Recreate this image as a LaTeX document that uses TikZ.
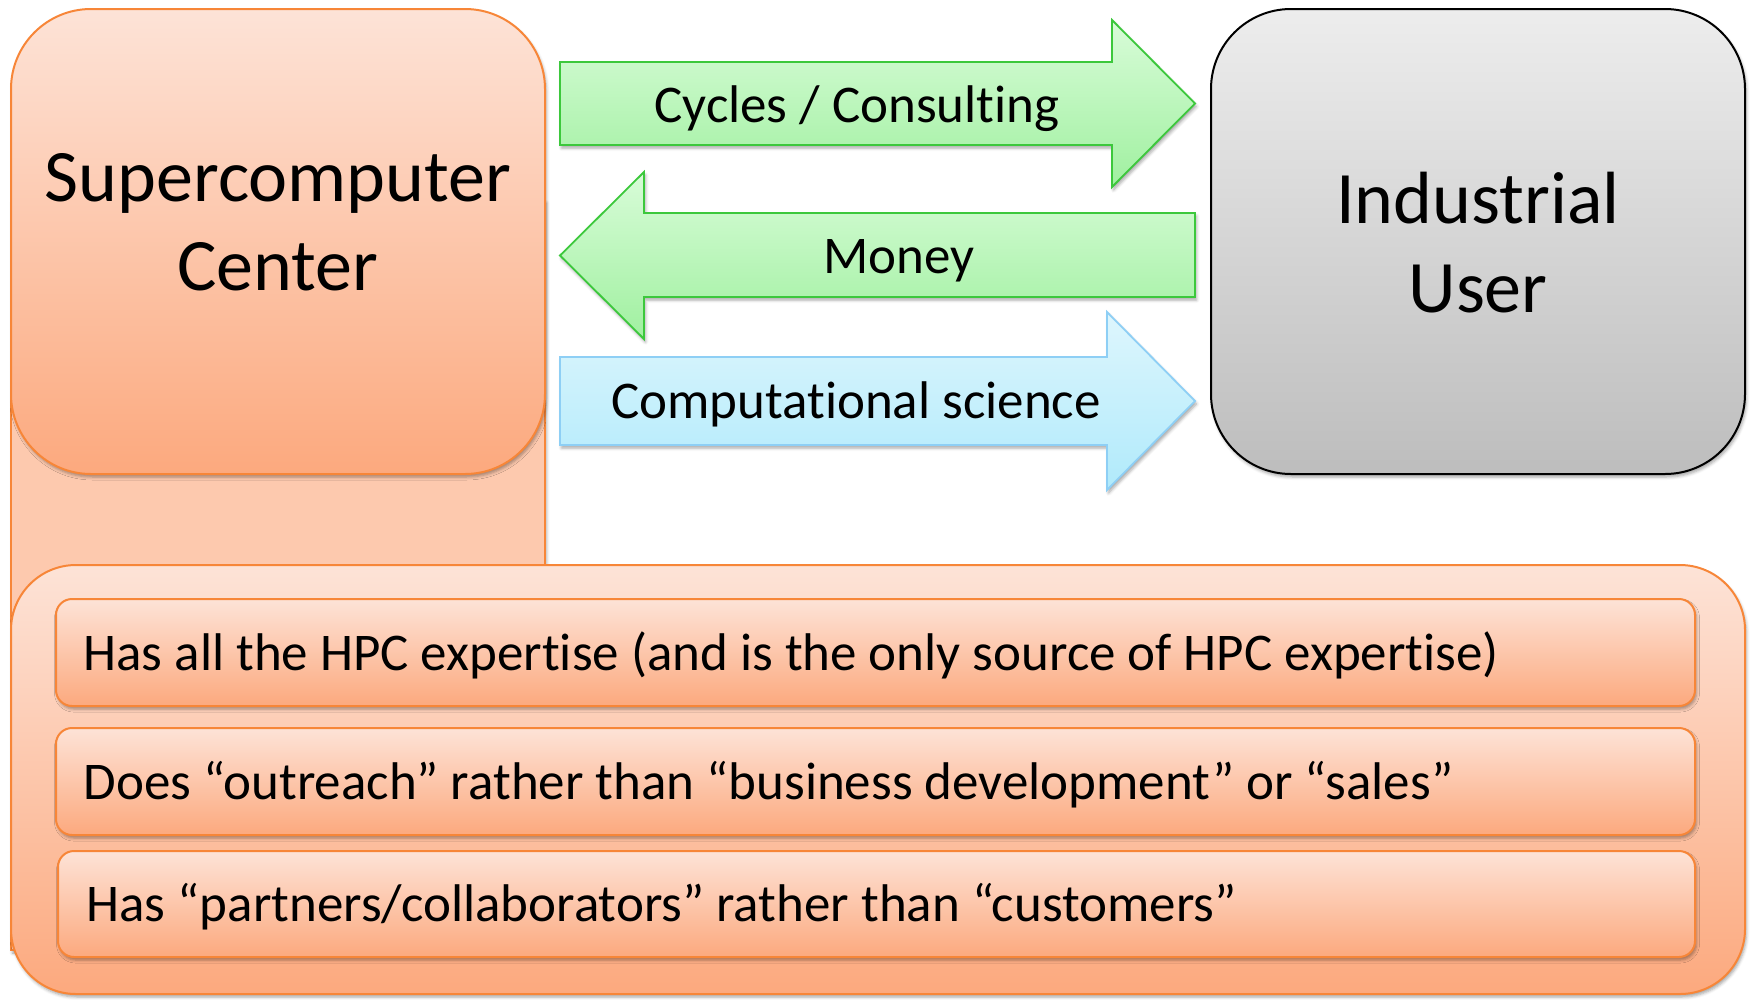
\documentclass[tikz,border=0pt]{standalone}
\usepackage{fontspec}
\setmainfont{Carlito}[Ligatures={TeX,NoCommon}]
\usetikzlibrary{shadows.blur}
\definecolor{hpcO}{RGB}{247,134,56}
\definecolor{hpcTop}{RGB}{253,227,215}
\definecolor{hpcBot}{RGB}{252,169,126}
\definecolor{hpcFlat}{RGB}{253,201,174}
\definecolor{flowG}{RGB}{60,200,60}
\definecolor{flowGtop}{RGB}{216,252,216}
\definecolor{flowGbot}{RGB}{160,240,160}
\definecolor{flowB}{RGB}{142,207,245}
\definecolor{flowBtop}{RGB}{222,246,253}
\definecolor{flowBbot}{RGB}{176,234,251}
\definecolor{userTop}{RGB}{237,237,237}
\definecolor{userBot}{RGB}{189,189,189}

\tikzset{
  soft/.style={blur shadow={shadow xshift=1.5pt,shadow yshift=-3pt,shadow blur radius=3pt,shadow opacity=35}},
  hpcbox/.style={draw=hpcO,line width=2pt,top color=hpcTop,bottom color=hpcBot,soft},
  greenflow/.style={draw=flowG,line width=1.8pt,top color=flowGtop,bottom color=flowGbot,soft},
  blueflow/.style={draw=flowB,line width=1.8pt,top color=flowBtop,bottom color=flowBbot,soft},
  bigtext/.style={font=\fontsize{74}{89}\selectfont,align=center,anchor=base},
  flowtext/.style={font=\fontsize{53}{64}\selectfont,anchor=base},
  itemtext/.style={font=\fontsize{53}{64}\selectfont,anchor=base west}
}

\begin{document}
\begin{tikzpicture}[x={(1pt,0)},y={(0,-1pt)}]
\useasboundingbox (0,0) rectangle (1750,999);

% centre column and its box
\draw[hpcO,line width=2pt,fill=hpcFlat,soft] (11,200) rectangle (545,950);
\path[hpcbox,rounded corners=80pt] (11,9) rectangle (545,474);

% the three exchanges
\path[greenflow] (560,62) -- (1112,62) -- (1112,20) -- (1195,103.5) -- (1112,187) -- (1112,145) -- (560,145) -- cycle;
\path[greenflow] (1195,213) -- (644,213) -- (644,172) -- (560,255.5) -- (644,339) -- (644,297) -- (1195,297) -- cycle;
\path[blueflow] (560,357) -- (1107,357) -- (1107,312) -- (1195,401) -- (1107,490) -- (1107,445) -- (560,445) -- cycle;

% user box
\path[draw=black,line width=2pt,top color=userTop,bottom color=userBot,soft,rounded corners=80pt] (1211,9) rectangle (1745,474);

% list of traits
\path[hpcbox,rounded corners=65pt] (11,565) rectangle (1745,994);
\path[hpcbox,rounded corners=16pt] (56,599) rectangle (1695,706);
\path[hpcbox,rounded corners=16pt] (56,728) rectangle (1695,835);
\path[hpcbox,rounded corners=16pt] (58,851) rectangle (1695,957);

% base anchor sits on the last line
\node[bigtext] (center) at (278,290) {Supercomputer\\Center};
\node[bigtext] (user) at (1478,312) {Industrial\\User};

\node[flowtext] (cycles) at (857,122) {Cycles / Consulting};
\node[flowtext] (money) at (899,273) {Money};
\node[flowtext] (science) at (856,418) {Computational science};

\node[itemtext] (expertise) at (80,670) {Has all the HPC expertise (and is the only source of HPC expertise)};
\node[itemtext] (outreach) at (80,799) {Does “outreach” rather than “business development” or “sales”};
\node[itemtext] (partners) at (83,921) {Has “partners/collaborators” rather than “customers”};
\end{tikzpicture}
\end{document}
